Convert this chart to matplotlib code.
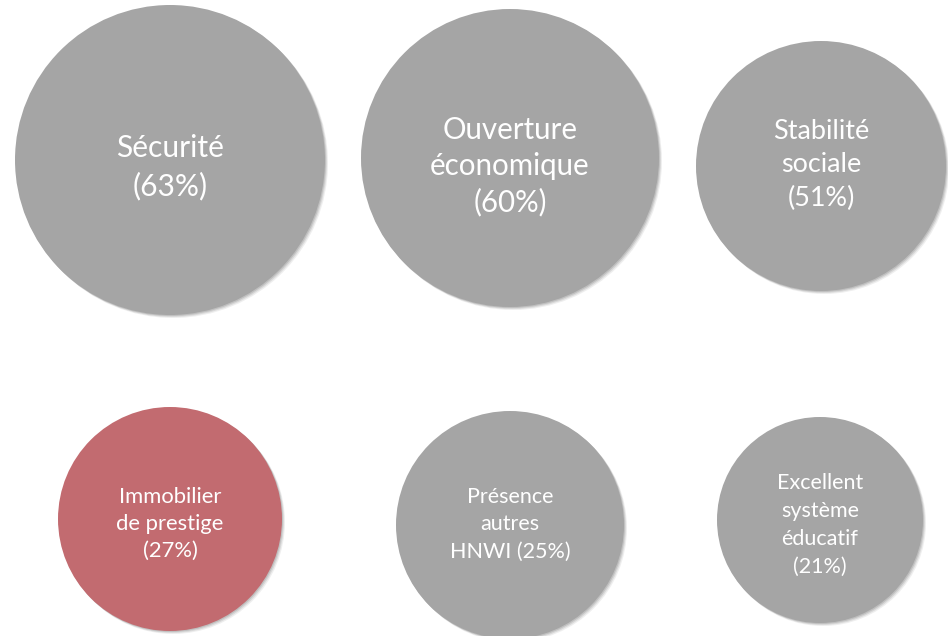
import matplotlib
matplotlib.use("Agg")
import matplotlib.pyplot as plt
from matplotlib.patches import Circle

# ---- data ----
categories = ["Sécurité", "Ouverture\néconomique", "Stabilité\nsociale",
              "Immobilier\nde prestige", "Présence\nautres\nHNWI", "Excellent\nsystème\néducatif"]
values = [63, 60, 51, 27, 25, 21]
highlight = [False, False, False, True, False, False]

# ---- layout (pixels, origin top-left) ----
centers_x = [170, 510, 821, 170, 510, 820]
centers_y = [160, 158, 166, 519, 525, 520]
radii = [155, 149, 125, 112, 114, 103]
text_y = [167, 166, 165, 524, 524, 525]
font_px = [30, 29.5, 27, 22, 21.5, 21.5]
line_sp = [1.39, 1.34, 1.42, 1.45, 1.46, 1.48]

grey = "#A5A5A5"
red = "#C26B70"

W, H, DPI = 948, 636, 100
fig = plt.figure(figsize=(W / DPI, H / DPI), dpi=DPI)
ax = fig.add_axes([0, 0, 1, 1])
ax.set_xlim(0, W)
ax.set_ylim(H, 0)
ax.set_aspect("equal")
ax.axis("off")

for i, (cat, v) in enumerate(zip(categories, values)):
    cx, cy, r = centers_x[i], centers_y[i], radii[i]
    col = red if highlight[i] else grey
    # soft shadow toward bottom-right
    for k, a in [(3.0, 0.10), (2.0, 0.15), (1.0, 0.2)]:
        ax.add_patch(Circle((cx + k, cy + k), r, facecolor="#606060", edgecolor="none", alpha=a, zorder=1))
    ax.add_patch(Circle((cx, cy), r, facecolor=col, edgecolor="none", zorder=2))
    if cat.startswith("Présence"):
        label = f"{cat[:-5]}\nHNWI ({v}%)"
    else:
        label = f"{cat}\n({v}%)"
    ax.text(cx, text_y[i], label, ha="center", va="center", multialignment="center",
            color="white", fontsize=font_px[i] * 72 / DPI, family=["Lato", "DejaVu Sans"],
            linespacing=line_sp[i], zorder=3)

fig.savefig("out.png", dpi=DPI, facecolor="white")
